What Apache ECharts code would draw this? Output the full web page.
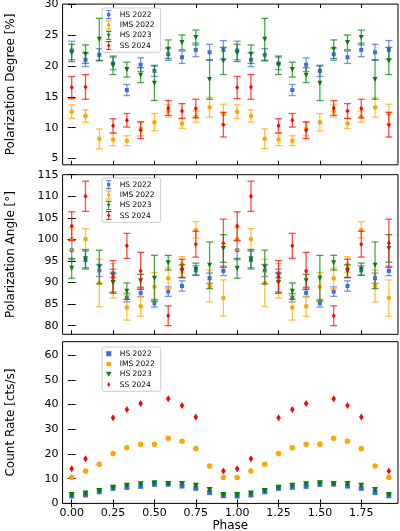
<!DOCTYPE html>
<html>
<head>
<meta charset="utf-8">
<script src="https://cdn.jsdelivr.net/npm/echarts@6/dist/echarts.min.js"></script>
<style>
html, body { margin: 0; padding: 0; background: #fff; }
#chart { width: 400px; height: 531px; }
</style>
</head>
<body>
<div id="chart"></div>
<script>
// phase bins of one cycle, drawn twice (0-1 and 1-2)
var phase = [0.0000, 0.0833, 0.1667, 0.2500, 0.3333, 0.4167, 0.5000, 0.5833, 0.6667, 0.7500, 0.8333, 0.9167];
var names = ['HS 2022', 'IMS 2022', 'HS 2023', 'SS 2024'];

// polarization degree [%]
var hs22PD  = [22.5, 21.0, 21.8, 20.4, 16.1, 20.2, 19.2, 21.9, 21.4, 22.6, 22.2, 22.6];
var hs22PDe = [1.5, 1.1, 1.0, 1.0, 0.9, 1.1, 0.9, 1.0, 1.0, 1.1, 1.3, 1.5];
var ims22PD  = [12.6, 11.9, 8.2, 8.1, 7.9, 9.8, 10.9, 12.7, 10.7, 11.8, 13.3, 12.2];
var ims22PDe = [1.1, 1.0, 1.6, 1.0, 0.8, 1.1, 1.4, 1.0, 0.8, 0.9, 1.6, 1.6];
var hs23PD  = [22.1, 21.9, 24.3, 20.1, 19.4, 18.5, 17.2, 22.7, 23.8, 24.6, 17.8, 20.8];
var hs23PDe = [1.4, 1.5, 3.4, 1.5, 1.2, 1.2, 2.8, 1.5, 1.2, 1.2, 3.2, 2.2];
var ss24PD  = [16.5, 16.6, null, 10.3, 11.2, 9.6, null, 13.2, 12.7, 13.1, null, 10.5];
var ss24PDe = [1.8, 2.0, null, 1.15, 1.1, 1.35, null, 1.2, 1.2, 1.5, null, 2.0];

// polarization angle [deg]
var hs22PA  = [97.5, 95.2, 92.8, 92.1, 86.5, 87.6, 85.2, 87.9, 89.2, 92.8, 91.0, 92.7];
var hs22PAe = [2.2, 2.1, 1.4, 1.0, 1.0, 0.9, 0.9, 1.1, 1.2, 1.1, 1.2, 1.1];
var ims22PA  = [100.1, 100.1, 89.9, 90.4, 84.2, 84.5, 89.0, 91.0, 94.2, 102.2, 89.2, 86.4];
var ims22PAe = [2.6, 2.4, 5.5, 4.0, 2.9, 2.3, 3.3, 2.4, 1.8, 1.9, 3.7, 4.2];
var hs23PA  = [93.3, 95.5, 93.6, 90.0, 88.0, 90.4, 91.0, 94.6, 92.6, 93.1, 94.0, 97.9];
var hs23PAe = [2.3, 2.1, 3.9, 2.2, 1.9, 1.5, 5.3, 1.7, 1.5, 1.4, 5.4, 3.2];
var ss24PA  = [103.1, 110.0, null, 91.3, 98.5, 92.7, null, 82.3, 93.3, 98.9, null, 99.1];
var ss24PAe = [3.3, 3.5, null, 3.8, 2.9, 4.3, null, 2.3, 2.1, 3.0, null, 5.6];

// count rate [cts/s]
var hs22CR  = [3.0, 3.4, 4.7, 6.1, 6.5, 6.9, 7.7, 7.8, 7.0, 6.1, 4.4, 3.1];
var ims22CR = [10.5, 13.1, 15.8, 20.2, 22.5, 23.9, 23.9, 26.3, 25.1, 22.2, 15.1, 10.5];
var hs23CR  = [3.4, 4.0, 5.0, 6.3, 7.1, 7.7, 8.1, 7.8, 7.8, 7.1, 5.4, 3.4];
var ss24CR  = [14.0, 18.1, null, 34.6, 38.0, 40.4, null, 42.3, 39.6, 34.9, null, 13.1];

var phaseTicks = [0, 0.25, 0.5, 0.75, 1.0, 1.25, 1.5, 1.75];
var pdTicks = [5, 10, 15, 20, 25, 30];
var paTicks = [80, 85, 90, 95, 100, 105, 110, 115];
var crTicks = [0, 10, 20, 30, 40, 50, 60];

var colors = ['#4169E1', '#FFA500', '#008000', '#FF0000'];

function cycle(vals, errs) {
    var out = [];
    for (var c = 0; c < 2; c++) {
        for (var i = 0; i < phase.length; i++) {
            if (vals[i] == null) continue;
            var e = errs ? errs[i] : 0;
            out.push([phase[i] + c, vals[i], vals[i] - e, vals[i] + e]);
        }
    }
    return out;
}

function errRender(color) {
    return function (params, api) {
        var x = api.value(0);
        var lo = api.coord([x, api.value(2)]);
        var hi = api.coord([x, api.value(3)]);
        var w = 3.5;
        var st = { stroke: color, lineWidth: 1.3, opacity: 0.7 };
        return {
            type: 'group',
            children: [
                { type: 'line', shape: { x1: lo[0], y1: lo[1], x2: hi[0], y2: hi[1] }, style: st },
                { type: 'line', shape: { x1: lo[0] - w, y1: lo[1], x2: lo[0] + w, y2: lo[1] }, style: st },
                { type: 'line', shape: { x1: hi[0] - w, y1: hi[1], x2: hi[0] + w, y2: hi[1] }, style: st }
            ]
        };
    };
}

var panels = [
    { vals: [hs22PD, ims22PD, hs23PD, ss24PD], errs: [hs22PDe, ims22PDe, hs23PDe, ss24PDe],
      min: 4, max: 30, ticks: pdTicks, name: 'Polarization Degree [%]', top: 4.1, height: 160.7, legendTop: 8 },
    { vals: [hs22PA, ims22PA, hs23PA, ss24PA], errs: [hs22PAe, ims22PAe, hs23PAe, ss24PAe],
      min: 78, max: 115, ticks: paTicks, name: 'Polarization Angle [°]', top: 174.7, height: 159.6, legendTop: 178 },
    { vals: [hs22CR, ims22CR, hs23CR, ss24CR], errs: null,
      min: 0, max: 65.4, ticks: crTicks, name: 'Count Rate [cts/s]', top: 341.7, height: 161.7, legendTop: 347 }
];

var symbols = ['rect', 'circle', 'triangle', 'diamond'];
var rotates = [0, 0, 180, 0];
var smallSizes = [4, 4.5, 5, [4, 5]];
var bigSizes = [5, 5.5, 6, [4.5, 7]];

// legend icons: error bar + marker, or marker only
var barIcons = [
    'path://M1,0H7V1H1Z M3.5,0H4.5V10H3.5Z M1,9H7V10H1Z M2.2,3.2H5.8V6.8H2.2Z',
    'path://M1,0H7V1H1Z M3.5,0H4.5V10H3.5Z M1,9H7V10H1Z M4,3A2,2 0 1 1 4,7A2,2 0 1 1 4,3Z',
    'path://M1,0H7V1H1Z M3.5,0H4.5V10H3.5Z M1,9H7V10H1Z M1.8,3.2H6.2L4,7.2Z',
    'path://M1,0H7V1H1Z M3.5,0H4.5V10H3.5Z M1,9H7V10H1Z M4,2.8L6,5L4,7.2L2,5Z'
];
var dotIcons = [
    'path://M0,0H10V10H0Z',
    'circle',
    'path://M0,0H10L5,9Z',
    'path://M3,0L6,5L3,10L0,5Z'
];

var grids = [], xAxes = [], yAxes = [], legends = [], series = [];
panels.forEach(function (p, g) {
    grids.push({ left: 62.6, right: 2, top: p.top, height: p.height, show: true,
                 borderColor: '#000', borderWidth: 1, backgroundColor: 'transparent', outerBoundsMode: 'none' });
    var tickStyle = { inside: true, length: 4, customValues: phaseTicks, lineStyle: { color: '#000', width: 1 } };
    xAxes.push({
        type: 'value', gridIndex: g, position: 'bottom', min: -0.055, max: 1.972,
        axisLine: { show: false }, splitLine: { show: false }, axisTick: tickStyle,
        axisLabel: { show: g === 2, customValues: phaseTicks, color: '#000', fontSize: 11, margin: 4,
                     formatter: function (v) { return v.toFixed(2); } },
        name: g === 2 ? 'Phase' : '', nameLocation: 'middle', nameGap: 16,
        nameTextStyle: { fontSize: 12, color: '#000' }
    });
    xAxes.push({
        type: 'value', gridIndex: g, position: 'top', min: -0.055, max: 1.972,
        axisLine: { show: false }, splitLine: { show: false }, axisTick: tickStyle,
        axisLabel: { show: false }
    });
    var yTick = { inside: true, length: 4, customValues: p.ticks, lineStyle: { color: '#000', width: 1 } };
    yAxes.push({
        type: 'value', gridIndex: g, position: 'left', min: p.min, max: p.max,
        axisLine: { show: false }, splitLine: { show: false }, axisTick: yTick,
        axisLabel: { customValues: p.ticks, color: '#000', fontSize: 11, margin: 4 },
        name: p.name, nameLocation: 'middle', nameGap: 46,
        nameTextStyle: { fontSize: 12, color: '#000' }
    });
    yAxes.push({
        type: 'value', gridIndex: g, position: 'right', min: p.min, max: p.max,
        axisLine: { show: false }, splitLine: { show: false }, axisTick: yTick,
        axisLabel: { show: false }
    });

    legends.push({
        orient: 'vertical', left: 102, top: p.legendTop, selectedMode: false,
        padding: [2.2, 6, 2.2, 4], itemWidth: 12, itemHeight: g === 2 ? 5 : 9, itemGap: 1.3,
        backgroundColor: 'rgba(255,255,255,0.85)', borderColor: '#cccccc', borderWidth: 1, borderRadius: 2,
        textStyle: { fontSize: 7.5, lineHeight: 9, color: '#000' },
        data: names.map(function (n, k) {
            return { name: n, icon: g === 2 ? dotIcons[k] : barIcons[k], itemStyle: { color: colors[k] } };
        })
    });

    names.forEach(function (n, k) {
        var d = cycle(p.vals[k], p.errs ? p.errs[k] : null);
        if (p.errs) {
            series.push({
                name: n, type: 'custom', xAxisIndex: g * 2, yAxisIndex: g * 2,
                renderItem: errRender(colors[k]), itemStyle: { color: colors[k] },
                encode: { x: 0, y: 1 }, data: d, z: 2 + k * 2
            });
        }
        series.push({
            name: n, type: 'scatter', xAxisIndex: g * 2, yAxisIndex: g * 2,
            symbol: symbols[k], symbolRotate: rotates[k],
            symbolSize: g === 2 ? bigSizes[k] : smallSizes[k],
            itemStyle: { color: colors[k], opacity: 1 },
            encode: { x: 0, y: 1 }, data: d, z: 3 + k * 2
        });
    });
});

var chart = echarts.init(document.getElementById('chart'));
chart.setOption({
    animation: false,
    backgroundColor: '#fff',
    textStyle: { fontFamily: 'DejaVu Sans' },
    grid: grids,
    xAxis: xAxes,
    yAxis: yAxes,
    legend: legends,
    series: series
});
</script>
</body>
</html>
